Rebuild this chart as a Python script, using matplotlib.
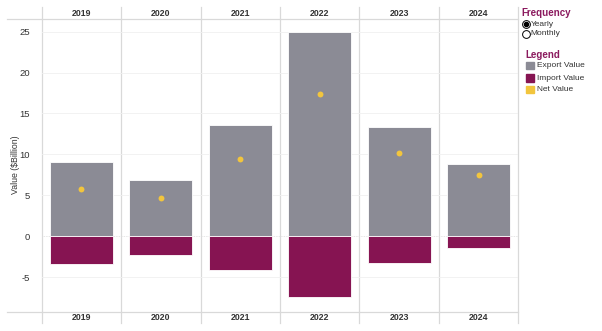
import matplotlib
matplotlib.use("Agg")
import matplotlib.pyplot as plt
from matplotlib.lines import Line2D
from matplotlib.patches import Rectangle

years = ["2019", "2020", "2021", "2022", "2023", "2024"]
export_vals = [9.12, 6.88, 13.57, 24.94, 13.36, 8.88]
import_vals = [-3.39, -2.29, -4.12, -7.46, -3.23, -1.39]
net_vals = [5.74, 4.64, 9.49, 17.40, 10.15, 7.49]
yticks = [-5, 0, 5, 10, 15, 20, 25]

C_EXP = "#8b8b95"
C_IMP = "#861452"
C_NET = "#f2c53d"
C_TXT = "#333333"
C_PURP = "#8b1a5e"
C_LINE = "#d9d9d9"

plt.rcParams['font.family'] = ['Liberation Sans', 'DejaVu Sans']

W, H = 602, 331
fig = plt.figure(figsize=(W / 100, H / 100), dpi=100)

def fx(px):
    return px / W

def fy(py):
    return 1 - py / H

left, right, top, bottom = 41.7, 518.3, 19.3, 311.7
ax = fig.add_axes([fx(left), fy(bottom), fx(right - left), (bottom - top) / H])
ax.set_xlim(-0.5, len(years) - 0.5)
ax.set_ylim(-9.2, 26.5)

x = list(range(len(years)))
ax.bar(x, export_vals, width=0.79, color=C_EXP, edgecolor="white", linewidth=0.6, zorder=3)
ax.bar(x, import_vals, width=0.79, color=C_IMP, edgecolor="white", linewidth=0.6, zorder=3)
ax.scatter(x, net_vals, s=18, color=C_NET, zorder=4, linewidths=0)

for t in yticks:
    if t == 0:
        ax.axhline(0, color="#dddddd", lw=0.6, ls=(0, (1, 1)), zorder=2)
    else:
        ax.axhline(t, color="#f0f0f0", lw=0.6, zorder=1)

for s in ax.spines.values():
    s.set_visible(False)
ax.set_xticks([])
ax.set_yticks(yticks)
ax.set_yticklabels([str(t) for t in yticks], fontsize=6.8, color=C_TXT)
ax.tick_params(axis="y", length=0, pad=8.5)
fig.text(fx(15), fy(165), "Value ($Billion)", fontsize=6.3, color=C_TXT,
         rotation=90, ha="center", va="center")

# column separators
ytop_frac = (bottom - 7) / (bottom - top)
ybot_frac = (bottom - 323) / (bottom - top)
for b in [i - 0.5 for i in range(len(years) + 1)]:
    ax.axvline(b, ymin=ybot_frac, ymax=ytop_frac, color=C_LINE, lw=0.9, clip_on=False, zorder=0)

# header/footer lines
for py in (top, bottom):
    fig.add_artist(Line2D([fx(7), fx(right)], [fy(py), fy(py)], color=C_LINE, lw=0.9))

# year labels
for i, yr in enumerate(years):
    cx = fx(left + (i + 0.5) * (right - left) / len(years))
    fig.text(cx, fy(13), yr, ha="center", va="center", fontsize=6.3, color=C_TXT, fontweight="bold")
    fig.text(cx, fy(317.5), yr, ha="center", va="center", fontsize=6.3, color=C_TXT, fontweight="bold")

# right panel
fig.text(fx(521.5), fy(13.3), "Frequency", fontsize=7, color=C_PURP, fontweight="bold", va="center")
fig.add_artist(Line2D([fx(525.7)], [fy(24)], marker="o", ms=5.6, mfc="white", mec="black", mew=0.7, ls=""))
fig.add_artist(Line2D([fx(525.7)], [fy(24)], marker="o", ms=3, mfc="black", mec="black", ls=""))
fig.text(fx(530.5), fy(24), "Yearly", fontsize=6, color=C_TXT, va="center")
fig.add_artist(Line2D([fx(525.7)], [fy(33.7)], marker="o", ms=5.6, mfc="white", mec="black", mew=0.7, ls=""))
fig.text(fx(530.5), fy(33.7), "Monthly", fontsize=6, color=C_TXT, va="center")

fig.text(fx(525), fy(55), "Legend", fontsize=7, color=C_PURP, fontweight="bold", va="center")
leg_items = [("Export Value", C_EXP, 65.7), ("Import Value", C_IMP, 78), ("Net Value", C_NET, 89.7)]
for label, col, py in leg_items:
    fig.add_artist(Rectangle((fx(526), fy(py + 3.7)), fx(7.5), 7.5 / H, color=col))
    fig.text(fx(537), fy(py), label, fontsize=6, color=C_TXT, va="center")

fig.savefig("out.png", dpi=100)
